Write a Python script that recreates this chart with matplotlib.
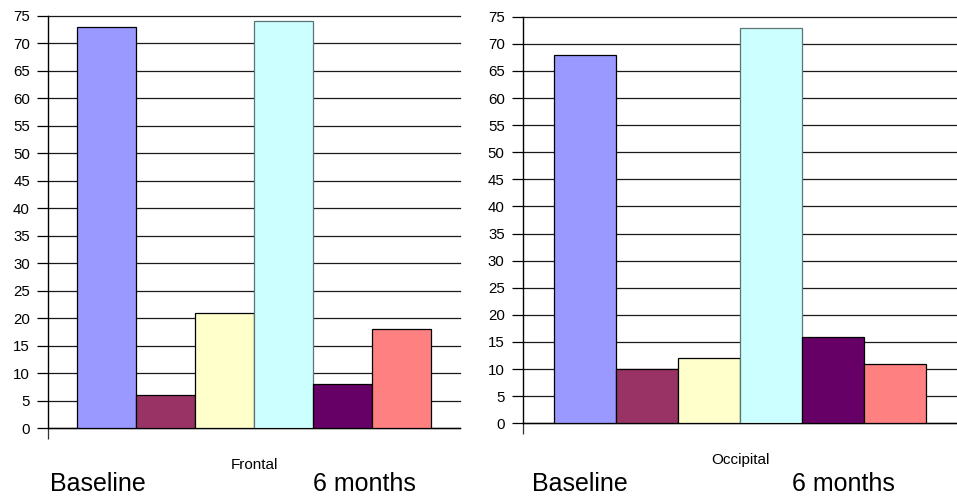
import matplotlib
matplotlib.use("Agg")
import matplotlib.pyplot as plt
import numpy as np

plt.rcParams["font.family"] = ["Liberation Sans", "DejaVu Sans"]

# Percentages per region: three baseline groups followed by three 6-month groups
frontal = [73, 6, 21, 74, 8, 18]
occipital = [68, 10, 12, 73, 16, 11]
bar_colors = ["#9999FF", "#993366", "#FFFFCC", "#CCFFFF", "#660066", "#FF8080"]
edge_colors = ["black", "black", "black", "#5f7373", "black", "black"]
y_ticks = list(range(0, 80, 5))
period_labels = ["Baseline", "6 months"]


def draw_panel(ax, values, region):
    x = np.arange(len(values))
    ax.bar(x, values, width=1.0, color=bar_colors, edgecolor=edge_colors,
           linewidth=0.9, zorder=3)
    ax.set_xlim(-1.0, len(values))
    ax.set_ylim(0, 75)
    ax.set_yticks(y_ticks)
    ax.yaxis.grid(True, color="#1a1a1a", linewidth=0.9, zorder=0)
    for line in ax.get_ygridlines():
        line.set_clip_on(False)
    ax.tick_params(axis="y", direction="out", length=8, width=0.9,
                   pad=5, labelsize=10.8, color="black")
    # single category tick on the left edge, hanging below the value axis
    ax.set_xticks([-1.0])
    ax.set_xticklabels([""])
    ax.tick_params(axis="x", direction="out", length=8, width=0.9, color="#333333")
    for side in ("top", "right"):
        ax.spines[side].set_visible(False)
    ax.spines["left"].set_linewidth(1.0)
    ax.spines["bottom"].set_linewidth(1.0)
    ax.text(0.5, -0.099, region, transform=ax.transAxes, ha="center",
            va="baseline", fontsize=11)


fig = plt.figure(figsize=(9.57, 4.97), dpi=100)
ax1 = fig.add_axes([0.0502, 0.1388, 0.4305, 0.8300])
ax2 = fig.add_axes([0.5462, 0.1483, 0.4541, 0.8181])

draw_panel(ax1, frontal, "Frontal")
draw_panel(ax2, occipital, "Occipital")

fig.text(0.0522, 0.012, period_labels[0], fontsize=18, va="baseline")
fig.text(0.327, 0.012, period_labels[1], fontsize=18, va="baseline")
fig.text(0.556, 0.013, period_labels[0], fontsize=18, va="baseline")
fig.text(0.8276, 0.013, period_labels[1], fontsize=18, va="baseline")

fig.savefig("out.png", dpi=100)
plt.close(fig)
